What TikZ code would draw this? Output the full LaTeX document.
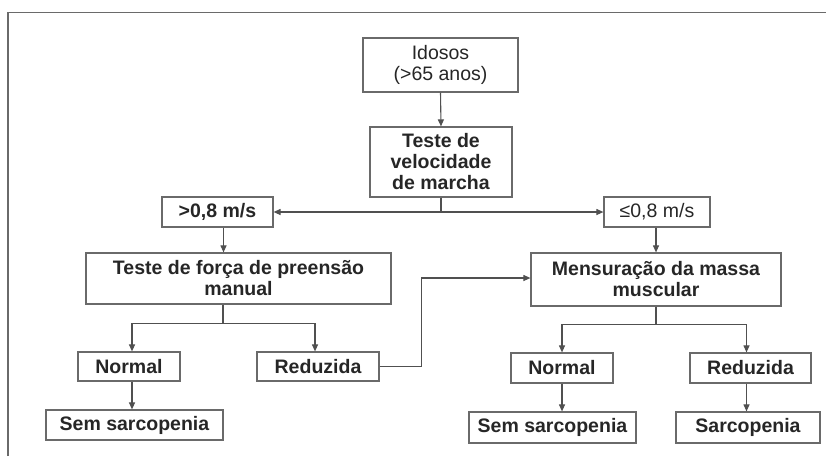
\documentclass[tikz,border=0pt]{standalone}
\usepackage{fontspec}
\setmainfont{Liberation Sans}
\usetikzlibrary{arrows.meta,positioning}
\definecolor{linec}{HTML}{505050}
\definecolor{boxc}{HTML}{6A6A6A}
\definecolor{txtc}{HTML}{262626}
\tikzset{
  box/.style={draw=boxc, line width=1.2pt, rectangle, inner sep=0pt, align=center,
    text=txtc, font=\fontsize{19.5}{21}\selectfont\bfseries},
  lightbox/.style={box, font=\fontsize{19.5}{21}\selectfont},
  arr/.style={draw=linec, line width=1.1pt, -{Triangle[width=6pt,length=7pt]}},
  ln/.style={draw=linec, line width=1.1pt},
}
\begin{document}
\begin{tikzpicture}[x=1pt,y=-1pt]
\useasboundingbox (0,0) rectangle (826,456);
\draw[draw=boxc, line width=1.5pt] (8,456) -- (8,12.5) -- (826,12.5);

\node[lightbox, minimum width=155pt, minimum height=54pt] (idosos) at (440.5,65) {Idosos\\(>65 anos)};
\node[box, minimum width=142pt, minimum height=70pt] (teste) at (441,162) {Teste de\\velocidade\\de marcha};
\node[box, minimum width=111pt, minimum height=30pt] (gt) at (217.5,212) {>0,8 m/s};
\node[lightbox, minimum width=106pt, minimum height=30pt] (le) at (657,212) {≤0,8 m/s};
\node[box, minimum width=305pt, minimum height=51pt] (forca) at (238.5,278.5) {Teste de força de preensão\\manual};
\node[box, minimum width=250pt, minimum height=53pt] (mens) at (656,279.5) {Mensuração da massa\\muscular};
\node[box, minimum width=102pt, minimum height=29pt] (n1) at (129,366.5) {Normal};
\node[box, minimum width=122pt, minimum height=29pt] (r1) at (318,366.5) {Reduzida};
\node[box, minimum width=177pt, minimum height=30pt] (s1) at (134.5,425) {Sem sarcopenia};
\node[box, minimum width=102pt, minimum height=30pt] (n2) at (562,368) {Normal};
\node[box, minimum width=121pt, minimum height=30pt] (r2) at (750.5,368) {Reduzida};
\node[box, minimum width=167pt, minimum height=31pt] (s2) at (552.5,427.5) {Sem sarcopenia};
\node[box, minimum width=144pt, minimum height=31pt] (sc) at (748,427.5) {Sarcopenia};

\draw[arr] (idosos.south) -- (teste.north);
\draw[arr] (teste.south) |- (gt.east);
\draw[arr] (teste.south) |- (le.west);
\draw[arr] ([xshift=6pt]gt.south) -- ([xshift=6pt]gt.south |- forca.north);
\coordinate (fj) at ([xshift=-15.5pt]forca.south);
\draw[arr] (fj) -- ++(0,19) -| ([xshift=3pt]n1.north);
\draw[arr] (fj) -- ++(0,19) -| ([xshift=-3pt]r1.north);
\draw[arr] ([xshift=3pt]n1.south) -- ([xshift=3pt]n1.south |- s1.north);
\draw[arr] (r1.east) -- ++(42,0) |- ([yshift=1.5pt]mens.west);
\draw[arr] ([xshift=-1pt]le.south) -- ([xshift=-1pt]le.south |- mens.north);
\draw[arr] (mens.south) -- ++(0,18) -| (n2.north);
\draw[arr] (mens.south) -- ++(0,18) -| ([xshift=-4pt]r2.north);
\draw[arr] (n2.south) -- (n2.south |- s2.north);
\draw[arr] ([xshift=-4pt]r2.south) -- ([xshift=-4pt]r2.south |- sc.north);
\end{tikzpicture}
\end{document}
